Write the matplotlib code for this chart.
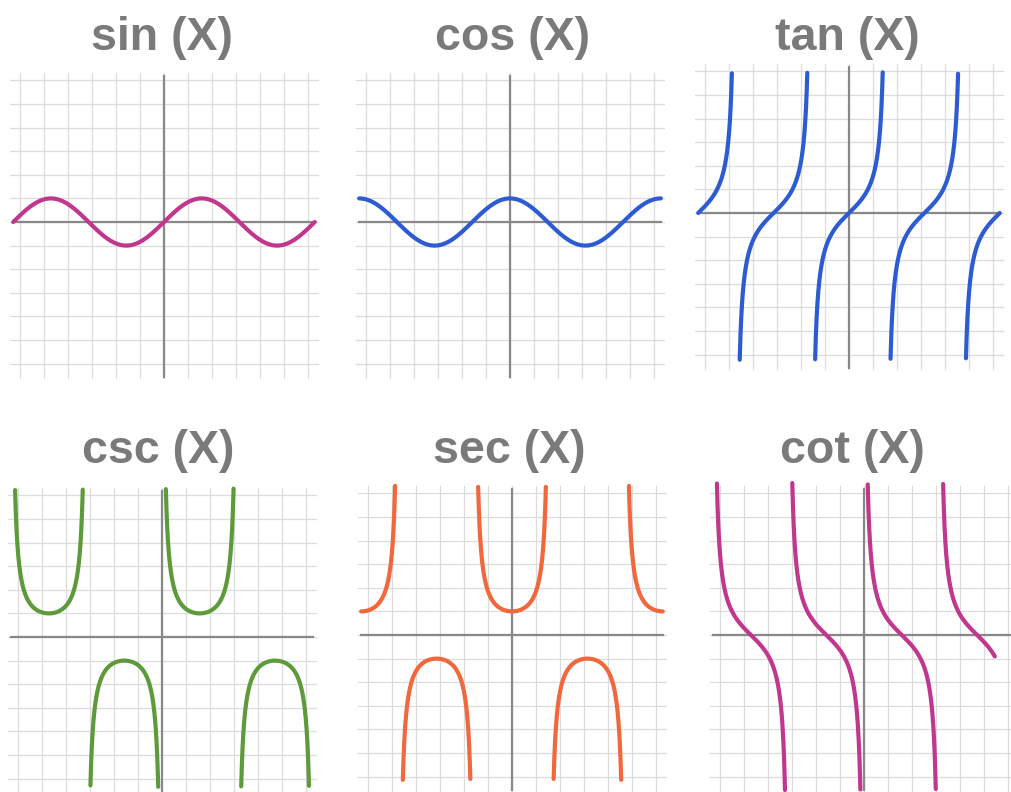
import numpy as np
import matplotlib.pyplot as plt

# six trig panels, 2 rows x 3 cols
titles = ["sin (X)", "cos (X)", "tan (X)", "csc (X)", "sec (X)", "cot (X)"]
funcs = ["sin", "cos", "tan", "csc", "sec", "cot"]
colors = ["#c1378e", "#2d5bd2", "#2d5bd2", "#5e9a3a", "#f2673c", "#c1378e"]
x_start = [-2 * np.pi] * 6
x_end = [2 * np.pi, 2 * np.pi, 2 * np.pi, 2 * np.pi, 2 * np.pi, 5.45]
y_top = [6.3, 6.3, 5.97, 6.3, 6.35, 6.45]
y_bottom = [-6.3, -6.3, -6.23, -6.36, -6.14, -6.6]

# panel origins in pixels (x from left, y from top)
W, H = 1012, 792
origins = [(164, 222), (510, 222), (849, 213), (162, 637), (512, 635), (864, 635)]
title_pos = [(162, 50), (513, 50), (847, 50), (158, 463), (509, 463), (852, 463)]
ppu_x, ppu_y = 24.0, 23.6
half = 7.0

fig = plt.figure(figsize=(W / 100, H / 100), dpi=100)
fig.patch.set_facecolor("white")


def evaluate(name, x):
    if name == "sin":
        return np.sin(x)
    if name == "cos":
        return np.cos(x)
    if name == "tan":
        return np.tan(x)
    if name == "csc":
        return 1 / np.sin(x)
    if name == "sec":
        return 1 / np.cos(x)
    return 1 / np.tan(x)


for i in range(6):
    ox, oy = origins[i]
    left = (ox - half * ppu_x) / W
    bottom = 1 - (oy + half * ppu_y) / H
    ax = fig.add_axes([left, bottom, 2 * half * ppu_x / W, 2 * half * ppu_y / H])
    ax.set_xlim(-half, half)
    ax.set_ylim(-half, half)
    ax.axis("off")

    # light grid, one line per unit
    for g in range(-6, 7):
        ax.plot([g, g], [-6.6, 6.3], color="#dcdcdc", lw=0.9, zorder=1)
        ax.plot([-6.4, 6.4], [g, g], color="#dcdcdc", lw=0.9, zorder=1)
    # axes through the origin
    ax.plot([-6.3, 6.3], [0, 0], color="#888888", lw=1.6, zorder=2)
    ax.plot([0, 0], [-6.55, 6.2], color="#888888", lw=1.6, zorder=2)

    x = np.linspace(x_start[i], x_end[i], 6000)
    with np.errstate(divide="ignore", invalid="ignore"):
        y = evaluate(funcs[i], x)
    y[(y > y_top[i]) | (y < y_bottom[i])] = np.nan
    ax.plot(x, y, color=colors[i], lw=3.0, solid_capstyle="round", zorder=3)

    tx, ty = title_pos[i]
    fig.text(tx / W, 1 - ty / H, titles[i], ha="center", va="baseline",
             fontsize=33.5, fontweight="bold", color="#7a7a7a",
             family=["Liberation Sans", "DejaVu Sans"])

fig.savefig("out.png", dpi=100, facecolor="white")
